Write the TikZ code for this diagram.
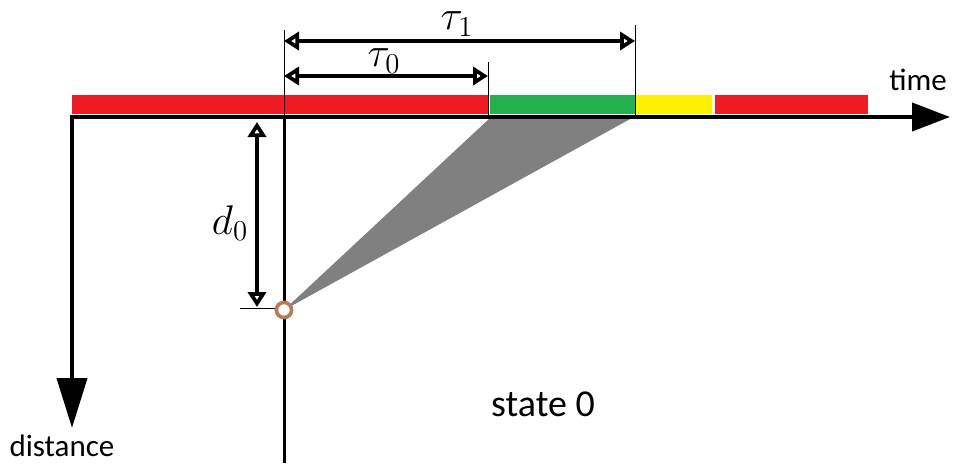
\documentclass[tikz,border=0pt]{standalone}
\usepackage{fontspec}
\newfontfamily\labelfont{Carlito}
\usetikzlibrary{arrows.meta}
\definecolor{barred}{HTML}{ED1C24}
\definecolor{bargreen}{HTML}{22B14C}
\definecolor{baryellow}{HTML}{FFF200}
\definecolor{conegray}{HTML}{808080}
\definecolor{startbrown}{HTML}{B97A57}
\begin{document}
\begin{tikzpicture}[x=0.5pt, y=-0.5pt,
  axis/.style={line width=2pt},
  dimline/.style={line width=2pt, {Triangle[open,length=7.5pt,width=9pt]}-{Triangle[open,length=7.5pt,width=9pt]}},
  guide/.style={line width=0.5pt},
  axislabel/.style={font=\labelfont\fontsize{15.5}{18}\selectfont, inner sep=0pt},
  mathlabel/.style={font=\fontsize{20}{24}\selectfont, inner sep=0pt}]
\useasboundingbox (0,0) rectangle (955,463);
% signal phases on the time axis
\fill[barred] (72,95) rectangle (488,114);
\fill[bargreen] (490,95) rectangle (635,114);
\fill[baryellow] (636,95) rectangle (712,114);
\fill[barred] (715,95) rectangle (868,114);
% reachable region
\coordinate (start) at (284,310);
\coordinate (g0) at (490,118);
\coordinate (g1) at (632,118);
\fill[conegray] (start) -- (g0) -- (g1) -- cycle;
% axes
\coordinate (origin) at (72,117);
\coordinate (timeend) at (950,117);
\coordinate (distend) at (72,428);
\draw[axis, {Triangle[length=19pt,width=14pt]}-{Triangle[length=25pt,width=15pt]}] (timeend) -- (origin) -- (distend);
\node[axislabel] (time) at (918,80) {time};
\node[axislabel] (distance) at (62,446) {distance};
% current position line and guides
\draw[guide] (284,30) -- (284,117);
\draw[line width=1.5pt] (284,117) -- (284,463);
\draw[guide] (488,62) -- (488,117);
\draw[guide] (635,25) -- (635,117);
\draw[guide] (240,308) -- (284,308);
% dimensions
\coordinate (t1a) at (284,41);
\coordinate (t1b) at (635,41);
\coordinate (t0a) at (284,76);
\coordinate (t0b) at (488,76);
\coordinate (d0a) at (257,122);
\coordinate (d0b) at (257,307);
\draw[dimline] (t1a) -- (t1b);
\draw[dimline] (t0a) -- (t0b);
\draw[dimline] (d0a) -- (d0b);
\node[mathlabel] (tau1) at (457,24) {$\tau_1$};
\node[mathlabel] (tau0) at (384,61) {$\tau_0$};
\node[mathlabel] (dzero) at (230,223) {$d_0$};
% start point
\draw[startbrown, line width=1.8pt, fill=white] (start) circle (3.8pt);
\node[font=\labelfont\fontsize{19}{22}\selectfont, inner sep=0pt] (state) at (543,404) {state 0};
\end{tikzpicture}
\end{document}
